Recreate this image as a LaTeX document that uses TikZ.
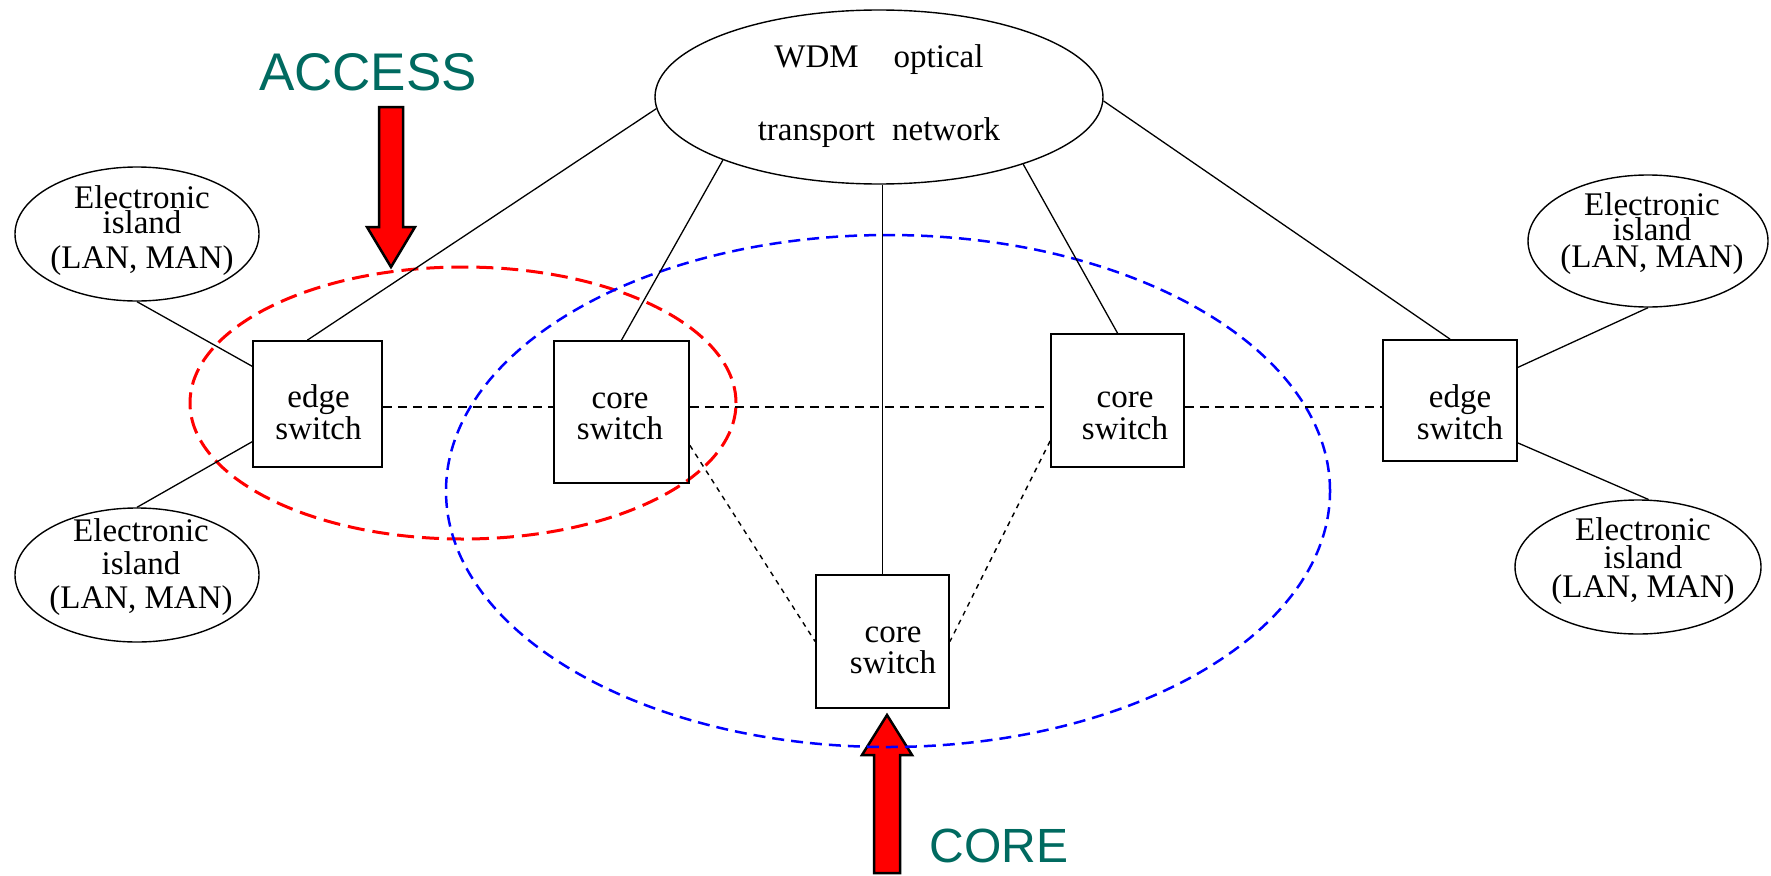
\documentclass[tikz,border=0pt]{standalone}
\usepackage{fontspec}
\setmainfont{Liberation Serif}
\newfontfamily\tagfont{Liberation Sans}
\usetikzlibrary{shapes.geometric}
\definecolor{tagteal}{RGB}{0,106,96}
% fixed-height strut so that every text line has the same box
\newcommand\lnst{\rule[-9pt]{0pt}{32pt}}
\newcommand\figfont{\fontsize{33}{32}\selectfont}

\begin{document}
\begin{tikzpicture}[x=1pt,y=-1pt,
  switchbox/.style={draw, line width=1.8pt, inner sep=0pt},
  island/.style={draw, ellipse, line width=1.4pt, inner sep=0pt},
  txt/.style={inner sep=0pt, align=center, font=\figfont},
  wire/.style={line width=1.3pt},
  fibre/.style={line width=1.5pt, dash pattern=on 9pt off 6pt},
  link/.style={line width=1.4pt, dash pattern=on 5pt off 5pt},
  accessring/.style={red, line width=3pt, dash pattern=on 17pt off 8pt},
  corering/.style={blue, line width=2.5pt, dash pattern=on 12pt off 7pt},
  pointer/.style={draw=black, fill=red, line width=2.5pt, line join=miter},
  tag/.style={inner sep=0pt, anchor=base, text=tagteal}
]
\useasboundingbox (0,0) rectangle (1771,875);

% block arrows pointing at the two regions
\draw[pointer] (379,107) -- (403,107) -- (403,227) -- (415,227) -- (391,267)
               -- (367,227) -- (379,227) -- cycle;
\draw[pointer] (874,873) -- (874,755) -- (862,755) -- (887,715) -- (912,755)
               -- (900,755) -- (900,873) -- cycle;

\node[tag, font=\tagfont\fontsize{53}{53}\selectfont] (accesstag) at (368,90) {ACCESS};
\node[tag, font=\tagfont\fontsize{48}{48}\selectfont] (coretag) at (999,862) {CORE};

% access and core regions
\draw[accessring] (463,403) ellipse [x radius=273pt, y radius=136pt];
\draw[corering] (888,491) ellipse [x radius=442pt, y radius=256pt];

% optical transport network
\node[island, txt, minimum width=448pt, minimum height=174pt] (wdm) at (879,97)
  {\lnst WDM\hspace{35pt}optical\\[41pt]\lnst transport\hspace{17pt}network};

% switches
\node[switchbox, minimum width=129pt, minimum height=126pt] (eL) at (317.5,404) {};
\node[switchbox, minimum width=135pt, minimum height=142pt] (c1) at (621.5,412) {};
\node[switchbox, minimum width=133pt, minimum height=133pt] (c2) at (1117.5,400.5) {};
\node[switchbox, minimum width=133pt, minimum height=133pt] (bc) at (882.5,641.5) {};
\node[switchbox, minimum width=134pt, minimum height=121pt] (eR) at (1450,400.5) {};

\node[txt] (eLtxt) at (318.5,416) {\lnst edge\\\lnst switch};
\node[txt] (c1txt) at (620,416.5) {\lnst core\\[-1pt]\lnst switch};
\node[txt] (c2txt) at (1125,416) {\lnst core\\\lnst switch};
\node[txt] (bctxt) at (893,650.5) {\lnst core\\[-1pt]\lnst switch};
\node[txt] (eRtxt) at (1460,416) {\lnst edge\\\lnst switch};

% electronic islands
\node[island, minimum width=244pt, minimum height=134pt] (iTL) at (137,234) {};
\node[island, minimum width=244pt, minimum height=134pt] (iBL) at (137,575) {};
\node[island, minimum width=240pt, minimum height=132pt] (iTR) at (1648,241) {};
\node[island, minimum width=246pt, minimum height=134pt] (iBR) at (1638,567) {};

\node[txt] (iTLtxt) at (142,231) {\lnst Electronic\\[-7pt]\lnst island\\[3pt]\lnst (LAN, MAN)};
\node[txt] (iTRtxt) at (1652,234) {\lnst Electronic\\[-7pt]\lnst island\\[-5pt]\lnst (LAN, MAN)};
\node[txt] (iBLtxt) at (141,567.5) {\lnst Electronic\\[1pt]\lnst island\\[2pt]\lnst (LAN, MAN)};
\node[txt] (iBRtxt) at (1643,561.5) {\lnst Electronic\\[-4pt]\lnst island\\[-3pt]\lnst (LAN, MAN)};

% optical links to the network
\draw[wire] (wdm.183) -- (eL.99);
\draw[wire] (wdm.202) -- (c1.north);
\draw[wire] (wdm.south -| bc.north) -- (bc.north);
\draw[wire] (wdm.335) -- (c2.north);
\draw[wire] (wdm.359) -- (eR.north);

% island attachments
\draw[wire] (iTL.south) -- (eL.150);
\draw[wire] (iBL.north) -- (eL.210);
\draw[wire] (iTR.south) -- (eR.26);
\draw[wire] (iBR.81) -- (eR.328);

% switch-to-switch links
\coordinate (hl) at (0,407);
\draw[fibre] (eL.east |- hl) -- (c1.west |- hl);
\draw[fibre] (c1.east |- hl) -- (c2.west |- hl);
\draw[fibre] (c2.east |- hl) -- (eR.west |- hl);
\draw[link] (c1.334) -- (bc.west);
\draw[link] (c2.211) -- (bc.east);
\end{tikzpicture}
\end{document}
